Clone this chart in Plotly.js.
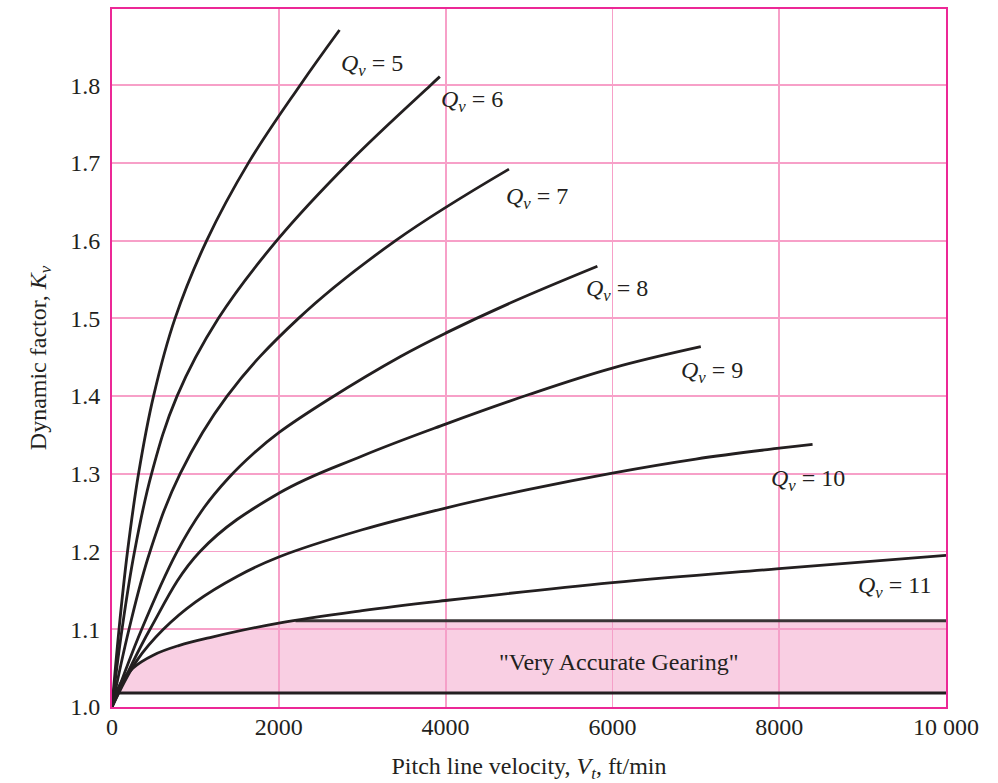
<!DOCTYPE html>
<html>
<head>
<meta charset="utf-8">
<script src="https://cdn.plot.ly/plotly-3.0.1.min.js"></script>
<style>html,body{margin:0;padding:0;background:#fff;}#chart{width:998px;height:783px;}</style>
</head>
<body>
<div id="chart"></div>
<script>
// Pitch line velocity (ft/min) and dynamic factor Kv
const qv5X  = [0, 84, 186, 318, 498, 756, 1135, 1636, 2256, 2728];
const qv5Y  = [1.0, 1.1, 1.2, 1.3, 1.4, 1.5, 1.6, 1.7, 1.8, 1.871];
const qv6X  = [0, 120, 270, 474, 780, 1276, 1975, 2836, 3820, 3931];
const qv6Y  = [1.0, 1.1, 1.2, 1.3, 1.4, 1.5, 1.6, 1.7, 1.8, 1.811];
const qv7X  = [0, 204, 456, 816, 1380, 2236, 3400, 4760];
const qv7Y  = [1.0, 1.1, 1.2, 1.3, 1.4, 1.5, 1.6, 1.692];
const qv8X  = [0, 356, 776, 1100, 1400, 1700, 2000, 2600, 3460, 4000, 4780, 5820];
const qv8Y  = [1.0, 1.1, 1.199, 1.256, 1.295, 1.3265, 1.353, 1.396, 1.451, 1.481, 1.52, 1.567];
const qv9X  = [0, 456, 1056, 2000, 3000, 4000, 5000, 6000, 7060];
const qv9Y  = [1.0, 1.1, 1.2, 1.275, 1.323, 1.364, 1.402, 1.436, 1.4635];
const qv10X = [0, 300, 616, 1000, 1500, 2000, 3000, 4000, 5000, 6000, 7000, 8000, 8400];
const qv10Y = [1.0, 1.06, 1.1, 1.135, 1.168, 1.193, 1.228, 1.256, 1.280, 1.301, 1.319, 1.333, 1.338];
const qv11X = [0, 100, 250, 500, 800, 1200, 2000, 3000, 4000, 6000, 8000, 10000];
const qv11Y = [1.0, 1.03, 1.05, 1.067, 1.079, 1.09, 1.108, 1.124, 1.137, 1.160, 1.178, 1.195];

// "Very Accurate Gearing" band
const bandTopX  = [0, 100, 250, 500, 800, 1200, 2000, 2200, 10000];
const bandTopY  = [1.0, 1.03, 1.05, 1.067, 1.079, 1.09, 1.108, 1.111, 1.111];
const bandBaseX = [10000, 0];
const bandBaseY = [1.018, 1.018];
const bandLineX = [2200, 10000];
const bandLineY = [1.111, 1.111];

const qvLabels = ['5', '6', '7', '8', '9', '10', '11'];

const xTickVals = [0, 2000, 4000, 6000, 8000, 10000];
const xTickText = ['0', '2000', '4000', '6000', '8000', '10 000'];
const yTickVals = [1.0, 1.1, 1.2, 1.3, 1.4, 1.5, 1.6, 1.7, 1.8];
const yTickText = ['1.0', '1.1', '1.2', '1.3', '1.4', '1.5', '1.6', '1.7', '1.8'];

const FONT = 'Liberation Serif, Times New Roman, serif';
const INK = '#231f20';
const curveLine = {color: INK, width: 2.8, shape: 'spline', smoothing: 1.1};

const traces = [];
// pink band polygon (translucent so grid shows through)
traces.push({
  x: bandTopX.concat(bandBaseX), y: bandTopY.concat(bandBaseY),
  mode: 'lines', fill: 'toself', fillcolor: 'rgba(243,160,200,0.5)',
  line: {width: 0, color: 'rgba(0,0,0,0)'},
  hoverinfo: 'skip', showlegend: false
});
// band boundary lines
traces.push({x: bandLineX, y: bandLineY, mode: 'lines',
  line: {color: '#3a3536', width: 3}, showlegend: false});
traces.push({x: bandBaseX, y: bandBaseY, mode: 'lines',
  line: {color: INK, width: 3}, showlegend: false});

const series = [[qv5X, qv5Y], [qv6X, qv6Y], [qv7X, qv7Y], [qv8X, qv8Y],
                [qv9X, qv9Y], [qv10X, qv10Y], [qv11X, qv11Y]];
series.forEach((s, i) => {
  traces.push({x: s[0], y: s[1], mode: 'lines', line: curveLine,
    name: 'Qv = ' + qvLabels[i], showlegend: false});
});

// label positions (layout)
const labelPos = [
  [2716, 1.826], [3920, 1.780], [4700, 1.655], [5660, 1.536],
  [6800, 1.431], [7876, 1.292], [8920, 1.154]
];
const annotations = labelPos.map((p, i) => ({
  x: p[0], y: p[1], xref: 'x', yref: 'y', xanchor: 'left', yanchor: 'middle',
  text: '<i>Q</i><sub><i>v</i></sub> = ' + qvLabels[i], showarrow: false,
  font: {family: FONT, size: 24, color: INK}
}));
annotations.push({
  x: 6076, y: 1.0576, xref: 'x', yref: 'y', xanchor: 'center', yanchor: 'middle',
  text: '"Very Accurate Gearing"', showarrow: false,
  font: {family: FONT, size: 24, color: INK}
});

const layout = {
  width: 998, height: 783,
  margin: {l: 112, r: 52, t: 9, b: 76},
  paper_bgcolor: '#fff', plot_bgcolor: '#fff',
  showlegend: false,
  font: {family: FONT, size: 24, color: INK},
  xaxis: {
    range: [0, 10000], tickvals: xTickVals, ticktext: xTickText,
    showgrid: true, gridcolor: 'rgb(247,160,200)', gridwidth: 1.8,
    zeroline: false, showline: true, mirror: true,
    linecolor: 'rgb(236,40,150)', linewidth: 2,
    ticks: '', ticklabelstandoff: -3,
    tickfont: {family: FONT, size: 24, color: INK},
    title: {text: 'Pitch line velocity, <i>V</i><sub><i>t</i></sub>, ft/min',
      font: {family: FONT, size: 24, color: INK}, standoff: 18}
  },
  yaxis: {
    range: [1.0, 1.898], tickvals: yTickVals, ticktext: yTickText,
    showgrid: true, gridcolor: 'rgb(247,160,200)', gridwidth: 1.8,
    zeroline: false, showline: true, mirror: true,
    linecolor: 'rgb(236,40,150)', linewidth: 2,
    ticks: 'outside', ticklen: 5, tickcolor: 'rgba(0,0,0,0)',
    tickfont: {family: FONT, size: 24, color: INK},
    title: {text: 'Dynamic factor, <i>K</i><sub><i>v</i></sub>',
      font: {family: FONT, size: 24, color: INK}, standoff: 17}
  },
  annotations: annotations
};

Plotly.newPlot('chart', traces, layout, {staticPlot: true, displayModeBar: false});
</script>
</body>
</html>
